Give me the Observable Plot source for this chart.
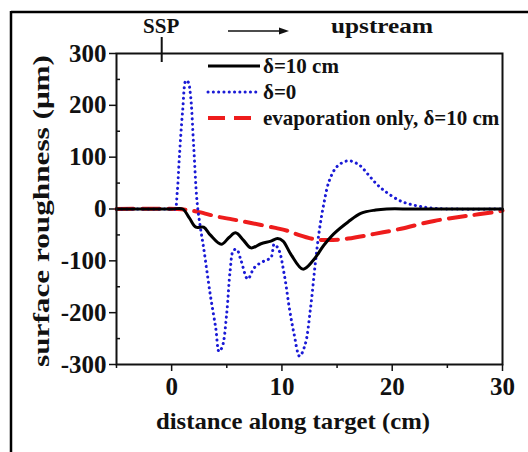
<!DOCTYPE html>
<html>
<head>
<meta charset="utf-8">
<script src="https://cdn.jsdelivr.net/npm/d3@7"></script>
<script src="https://cdn.jsdelivr.net/npm/@observablehq/plot@0.6"></script>
<style>
  html, body { margin: 0; padding: 0; background: #fff; }
  svg { display: block; }
</style>
</head>
<body>
<div id="chart"></div>
<script>
// ---- data ----
const xBlack = [-5, 0, 1.0, 1.6, 2.2, 2.9, 3.5, 4.5, 5.2, 5.8, 6.5, 7.2, 8.1, 9.0, 9.6, 10.1, 10.8, 11.9, 12.8, 13.8, 14.7, 16, 17.2, 18.5, 19.5, 22, 30];
const yBlack = [0, 0, 0, -17, -35, -35, -50, -68, -55, -46, -60, -75, -67, -62, -57, -62, -87, -116, -100, -70, -48, -25, -8, -2, 0, 0, 0];

const xBlue = [-5, 0, 0.3, 0.5, 0.7, 1.0, 1.3, 1.5, 1.7, 2.0, 2.3, 2.6, 2.9, 3.5, 4.0, 4.3, 4.6, 5.0, 5.3, 5.6, 5.9, 6.3, 6.9, 7.5, 8.4, 9.0, 9.3, 9.7, 10.2, 10.7, 11.1, 11.6, 12.1, 12.6, 13.0, 13.4, 13.8, 14.3, 15.0, 16.0, 17.0, 17.8, 18.5, 19.3, 20.8, 22.3, 24, 30];
const yBlue = [0, 0, 0, 30, 100, 190, 248, 245, 222, 120, 15, -35, -75, -165, -230, -275, -265, -200, -120, -80, -78, -100, -135, -113, -100, -94, -68, -78, -125, -195, -241, -284, -262, -190, -110, -40, 10, 55, 82, 93, 85, 67, 50, 35, 15, 6, 1, 0];

const xRed = [-5, 0.5, 1.5, 2.5, 4.2, 5.5, 7.2, 9.3, 10.5, 11.5, 12.9, 14.2, 16, 18.4, 20.8, 23.8, 26.9, 29.6, 30];
const yRed = [0, 0, -2, -6, -15, -20, -27, -36, -42, -50, -58, -60, -57, -48, -38, -23, -13, -5, -3];

const seriesNames = ["δ=10 cm", "δ=0", "evaporation only, δ=10 cm"];
const xTicks = [0, 10, 20, 30];
const xMinor = [-5, 5, 15, 25];
const yTicks = [-300, -200, -100, 0, 100, 200, 300];
const yMinor = [-250, -150, -50, 50, 150, 250];
const sspPosition = -0.9;
const xLabel = "distance along target (cm)";
const yLabel = "surface roughness (μm)";

// ---- build ----
const toRows = (xs, ys) => xs.map((x, i) => ({x, y: ys[i]}));
const black = toRows(xBlack, yBlack);
const blue = toRows(xBlue, yBlue);
const red = toRows(xRed, yRed);

const FONT = "'Liberation Serif', 'Times New Roman', serif";
const W = 528, H = 452;
const mL = 116, mR = 26, mT = 53, mB = 88;

const chart = Plot.plot({
  width: W,
  height: H,
  marginLeft: mL,
  marginRight: mR,
  marginTop: mT,
  marginBottom: mB,
  style: {fontFamily: FONT, fontWeight: "bold", fontSize: "25px", color: "#111", background: "#fff", overflow: "visible"},
  x: {domain: [-5, 30]},
  y: {domain: [-300, 300]},
  marks: [
    Plot.axisX({ticks: xTicks, tickSize: 7, tickPadding: 6, label: null, strokeWidth: 1.5, fontSize: 25, fontWeight: "bold"}),
    Plot.axisX({ticks: xMinor, tickSize: 4, text: null, label: null, strokeWidth: 1.5}),
    Plot.axisY({ticks: yTicks, tickSize: 7, tickPadding: 3, label: null, strokeWidth: 1.5, fontSize: 25, fontWeight: "bold", tickFormat: d => String(d)}),
    Plot.axisY({ticks: yMinor, tickSize: -4, text: null, label: null, strokeWidth: 1.5}),
    Plot.line(red, {x: "x", y: "y", stroke: "#ee1c1c", strokeWidth: 4, strokeDasharray: "17,9", curve: "catmull-rom"}),
    Plot.line(blue, {x: "x", y: "y", stroke: "#1a1ad6", strokeWidth: 3, strokeDasharray: "0.1,5.2", strokeLinecap: "round", curve: "catmull-rom"}),
    Plot.line(black, {x: "x", y: "y", stroke: "#000", strokeWidth: 3, curve: "catmull-rom"}),
    Plot.frame({stroke: "#111", strokeWidth: 2}),
    // SSP marker tick crossing the top axis
    Plot.ruleX([sspPosition], {y1: 300, y2: 300, stroke: "#111", strokeWidth: 2, insetTop: -16, insetBottom: -9})
  ]
});

document.getElementById("chart").appendChild(chart);

// ---- decorations (outer frame, annotations, legend, axis titles) ----
const svg = d3.select(chart);
const ns = svg.append("g").attr("font-family", FONT).attr("font-weight", "bold").attr("fill", "#111").attr("text-anchor", "start");

svg.append("line").attr("x1", 11).attr("x2", W).attr("y1", 12).attr("y2", 12).attr("stroke", "#000").attr("stroke-width", 2.5);
svg.append("line").attr("x1", 11).attr("x2", 11).attr("y1", 11).attr("y2", H).attr("stroke", "#000").attr("stroke-width", 2.5);

const xs = chart.scale("x");
const sspX = xs.apply(sspPosition);
ns.append("text").attr("x", sspX).attr("y", 33).attr("text-anchor", "middle").attr("font-size", 21).text("SSP");
ns.append("text").attr("x", 382).attr("y", 33).attr("text-anchor", "middle").attr("font-size", 21)
  .attr("textLength", 102).attr("lengthAdjust", "spacingAndGlyphs").text("upstream");
ns.append("line").attr("x1", 228).attr("x2", 283).attr("y1", 31).attr("y2", 31).attr("stroke", "#111").attr("stroke-width", 1.5);
ns.append("path").attr("d", "M289,31 L279,27.5 L279,34.5 Z").attr("fill", "#111");

// legend
const legendStyles = [
  {stroke: "#000", width: 3, dash: null, cap: "butt"},
  {stroke: "#1a1ad6", width: 3, dash: "0.1,5.2", cap: "round"},
  {stroke: "#ee1c1c", width: 4, dash: "17,9", cap: "butt"}
];
seriesNames.forEach((name, i) => {
  const yy = 66 + i * 26;
  const s = legendStyles[i];
  const ln = ns.append("line").attr("x1", 208).attr("x2", 260).attr("y1", yy).attr("y2", yy)
    .attr("stroke", s.stroke).attr("stroke-width", s.width).attr("stroke-linecap", s.cap);
  if (s.dash) ln.attr("stroke-dasharray", s.dash);
  ns.append("text").attr("x", 263).attr("y", yy + 7).attr("font-size", 21).text(name);
});

// axis titles
ns.append("text").attr("x", 293).attr("y", 429).attr("text-anchor", "middle").attr("font-size", 24)
  .attr("textLength", 274).attr("lengthAdjust", "spacingAndGlyphs").text(xLabel);
ns.append("text").attr("transform", "translate(49,211) rotate(-90)").attr("text-anchor", "middle").attr("font-size", 24)
  .attr("textLength", 312).attr("lengthAdjust", "spacingAndGlyphs").text(yLabel);
</script>
</body>
</html>
